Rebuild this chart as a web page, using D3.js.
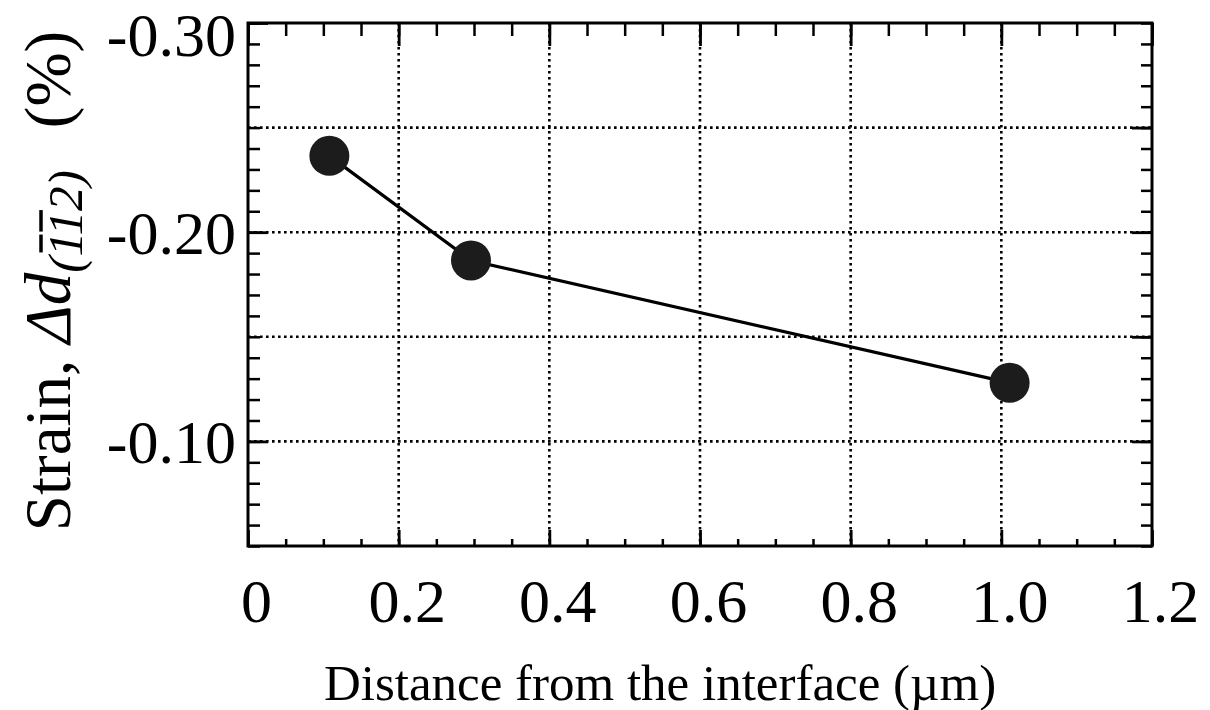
<!DOCTYPE html>
<html>
<head>
<meta charset="utf-8">
<script src="https://cdn.jsdelivr.net/npm/d3@7"></script>
<style>
  html, body { margin: 0; padding: 0; background: #fff; }
  svg { display: block; }
  text { font-family: "Liberation Serif", "Times New Roman", serif; fill: #000; }
</style>
</head>
<body>
<svg id="chart" width="1210" height="710"></svg>
<script>
// ---- data ----
const distance = [0.108, 0.296, 1.011];          // µm
const strain   = [-0.2365, -0.1865, -0.128];     // %
const xTickValues = [0, 0.2, 0.4, 0.6, 0.8, 1.0, 1.2];
const xTickLabels = ["0", "0.2", "0.4", "0.6", "0.8", "1.0", "1.2"];
const yTickValues = [-0.30, -0.20, -0.10];
const yTickLabels = ["-0.30", "-0.20", "-0.10"];
const xGridValues = [0.2, 0.4, 0.6, 0.8, 1.0];
const yGridValues = [-0.25, -0.20, -0.15, -0.10];
const xMinorValues = d3.range(0, 1.2001, 0.05);
const yMinorValues = d3.range(-0.30, -0.0499, 0.01);
const xTitle = "Distance from the interface (\u00B5m)";

// ---- layout ----
const pLeft = 248, pRight = 1152, pTop = 23, pBottom = 546;
const svg = d3.select("#chart");
const x = d3.scaleLinear().domain([0, 1.2]).range([pLeft, pRight]);
const y = d3.scaleLinear().domain([-0.30, -0.05]).range([pTop, pBottom]);

// grid
const grid = svg.append("g").attr("stroke", "#000").attr("stroke-width", 2.6)
  .attr("stroke-dasharray", "2.6,3.4").attr("fill", "none");
grid.selectAll("line.gx").data(xGridValues).join("line").attr("class", "gx")
  .attr("x1", d => x(d)).attr("x2", d => x(d)).attr("y1", pTop).attr("y2", pBottom);
grid.selectAll("line.gy").data(yGridValues).join("line").attr("class", "gy")
  .attr("x1", pLeft).attr("x2", pRight).attr("y1", d => y(d)).attr("y2", d => y(d));

// axes (ticks drawn inward)
function styleAxis(g, w) {
  g.select(".domain").remove();
  g.selectAll(".tick line").attr("stroke", "#000").attr("stroke-width", w);
}
// bottom minor + major
svg.append("g").attr("transform", `translate(0,${pBottom})`)
  .call(d3.axisBottom(x).tickValues(xMinorValues).tickSize(-7).tickFormat(""))
  .call(g => styleAxis(g, 2.5));
svg.append("g").attr("transform", `translate(0,${pBottom})`)
  .call(d3.axisBottom(x).tickValues(xTickValues).tickSize(-16).tickPadding(32)
    .tickFormat((d, i) => xTickLabels[i]))
  .call(g => styleAxis(g, 2.8))
  .call(g => g.selectAll(".tick text").attr("font-size", 62).attr("dx", 8)
    .attr("font-family", "Liberation Serif, Times New Roman, serif").attr("fill", "#000"));
// top
svg.append("g").attr("transform", `translate(0,${pTop})`)
  .call(d3.axisTop(x).tickValues(xMinorValues).tickSize(-13).tickFormat(""))
  .call(g => styleAxis(g, 2.5));
svg.append("g").attr("transform", `translate(0,${pTop})`)
  .call(d3.axisTop(x).tickValues(xTickValues).tickSize(-23).tickFormat(""))
  .call(g => styleAxis(g, 2.8));
// left
svg.append("g").attr("transform", `translate(${pLeft},0)`)
  .call(d3.axisLeft(y).tickValues(yMinorValues).tickSize(-12).tickFormat(""))
  .call(g => styleAxis(g, 2.5));
svg.append("g").attr("transform", `translate(${pLeft},0)`)
  .call(d3.axisLeft(y).tickValues(yTickValues).tickSize(-20).tickPadding(12)
    .tickFormat((d, i) => yTickLabels[i]))
  .call(g => styleAxis(g, 2.8))
  .call(g => g.selectAll(".tick text").attr("font-size", 62)
    .attr("font-family", "Liberation Serif, Times New Roman, serif").attr("fill", "#000")
    .attr("dy", (d, i) => i === 0 ? "0.52em" : "0.34em"));
// right
svg.append("g").attr("transform", `translate(${pRight},0)`)
  .call(d3.axisRight(y).tickValues(yMinorValues).tickSize(-11).tickFormat(""))
  .call(g => styleAxis(g, 2.5));
svg.append("g").attr("transform", `translate(${pRight},0)`)
  .call(d3.axisRight(y).tickValues(yGridValues).tickSize(-20).tickFormat(""))
  .call(g => styleAxis(g, 2.8));

// frame
svg.append("rect").attr("x", pLeft).attr("y", pTop).attr("width", pRight - pLeft)
  .attr("height", pBottom - pTop).attr("fill", "none").attr("stroke", "#000").attr("stroke-width", 3);

// data line + markers
const pts = distance.map((d, i) => [d, strain[i]]);
svg.append("path").datum(pts)
  .attr("d", d3.line().x(d => x(d[0])).y(d => y(d[1])))
  .attr("fill", "none").attr("stroke", "#000").attr("stroke-width", 3.2);
svg.selectAll("circle.pt").data(pts).join("circle").attr("class", "pt")
  .attr("cx", d => x(d[0])).attr("cy", d => y(d[1])).attr("r", 20)
  .attr("fill", "#1c1c1c");

// x title
svg.append("text").attr("x", 660).attr("y", 700).attr("text-anchor", "middle")
  .attr("font-size", 51).text(xTitle);

// y title (rotated)
const yt = svg.append("g").attr("transform", "translate(70,281) rotate(-90)");
const ytext = yt.append("text").attr("text-anchor", "middle").attr("font-size", 65);
ytext.append("tspan").text("Strain, ");
ytext.append("tspan").attr("font-style", "italic").text("\u0394d");
ytext.append("tspan").attr("font-style", "italic").attr("font-size", 49).attr("dy", 12).text("(112)");
ytext.append("tspan").attr("dy", -12).attr("dx", 42).text("(%)");
// overbars over the two 1s (char indices 11 and 12)
[11, 12].forEach(ci => {
  const e = ytext.node().getExtentOfChar(ci);
  yt.append("line").attr("x1", e.x + 4).attr("x2", e.x + e.width + 1)
    .attr("y1", e.y + 3).attr("y2", e.y + 3)
    .attr("stroke", "#000").attr("stroke-width", 3.5);
});
</script>
</body>
</html>
